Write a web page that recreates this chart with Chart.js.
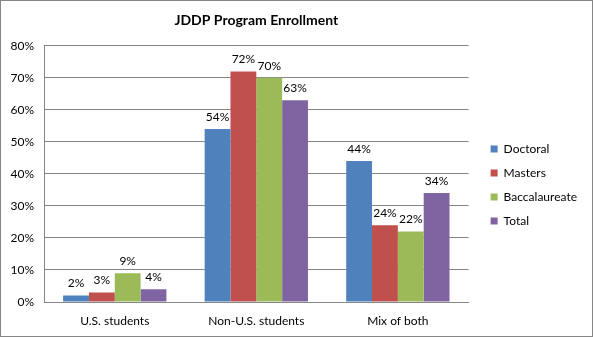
<!DOCTYPE html>
<html><head><meta charset="utf-8">
<script src="https://cdn.jsdelivr.net/npm/chart.js@4.4.1/dist/chart.umd.min.js"></script>
<style>html,body{margin:0;padding:0;background:#fff}canvas{display:block}</style>
</head><body>
<canvas id="c" width="593" height="337"></canvas>
<script>
const categories = ['U.S. students', 'Non-U.S. students', 'Mix of both'];
const seriesNames = ['Doctoral', 'Masters', 'Baccalaureate', 'Total'];
const doctoral = [2, 54, 44];
const masters = [3, 72, 24];
const baccalaureate = [9, 70, 22];
const total = [4, 63, 34];
const yTickValues = [0, 10, 20, 30, 40, 50, 60, 70, 80];
const colors = ['#4F81BD', '#C0504D', '#9BBB59', '#8064A2'];

const FONT = 'Lato, "Open Sans", sans-serif';
const LEGEND_SHIFT_X = 10;
const LEGEND_SHIFT_Y = 11;

const labelPlugin = {
  id: 'barLabels',
  afterDatasetsDraw(chart) {
    const ctx = chart.ctx;
    ctx.save();
    ctx.font = '12px ' + FONT;
    ctx.fillStyle = '#000';
    ctx.textAlign = 'center';
    ctx.textBaseline = 'bottom';
    chart.data.datasets.forEach((ds, i) => {
      chart.getDatasetMeta(i).data.forEach((bar, j) => {
        ctx.fillText(ds.data[j] + '%', bar.x, bar.y - 6);
      });
    });
    ctx.restore();
  }
};
const framePlugin = {
  id: 'frame',
  afterLayout(chart) {
    const lg = chart.legend;
    lg.left += LEGEND_SHIFT_X; lg.right += LEGEND_SHIFT_X;
    lg.top += LEGEND_SHIFT_Y; lg.bottom += LEGEND_SHIFT_Y;
  },
  beforeDraw(chart) {
    const ctx = chart.ctx;
    ctx.save();
    ctx.fillStyle = '#fff';
    ctx.fillRect(0, 0, chart.width, chart.height);
    ctx.restore();
  },
  afterDraw(chart) {
    const ctx = chart.ctx;
    ctx.save();
    ctx.strokeStyle = '#868686';
    ctx.lineWidth = 1;
    ctx.strokeRect(0.5, 0.5, chart.width - 1, chart.height - 1);
    ctx.restore();
  }
};

const seriesData = [doctoral, masters, baccalaureate, total];
new Chart(document.getElementById('c'), {
  type: 'bar',
  data: {
    labels: categories,
    datasets: seriesNames.map((n, i) => ({
      label: n,
      data: seriesData[i],
      backgroundColor: colors[i],
      borderWidth: 0,
      categoryPercentage: 0.73,
      barPercentage: 1.0
    }))
  },
  options: {
    responsive: false,
    animation: false,
    layout: { padding: { left: 0, right: 16, top: 0, bottom: 0 } },
    plugins: {
      title: {
        display: true,
        text: 'JDDP Program Enrollment',
        fullSize: false,
        color: '#000',
        font: { family: FONT, size: 14, weight: 'bold' },
        padding: { top: 12, bottom: 17 }
      },
      legend: {
        position: 'right',
        fullSize: false,
        align: 'center',
        labels: {
          boxWidth: 7, boxHeight: 7, padding: 12,
          color: '#000',
          font: { family: FONT, size: 12 }
        }
      },
      tooltip: { enabled: false }
    },
    scales: {
      x: {
        grid: { display: false, drawTicks: false },
        border: { display: true, color: '#868686' },
        ticks: { color: '#000', font: { family: FONT, size: 12 }, padding: 12 },
        afterFit(s) { s.height = 35; }
      },
      y: {
        min: 0, max: 80,
        grid: { color: '#868686', drawTicks: false },
        border: { display: true, color: '#868686' },
        afterBuildTicks(s) { s.ticks = yTickValues.map(v => ({ value: v })); },
        ticks: {
          color: '#000', font: { family: FONT, size: 12 }, padding: 10,
          callback: v => v + '%'
        },
        afterFit(s) { s.width = 44; }
      }
    }
  },
  plugins: [labelPlugin, framePlugin]
});
</script>
</body></html>
